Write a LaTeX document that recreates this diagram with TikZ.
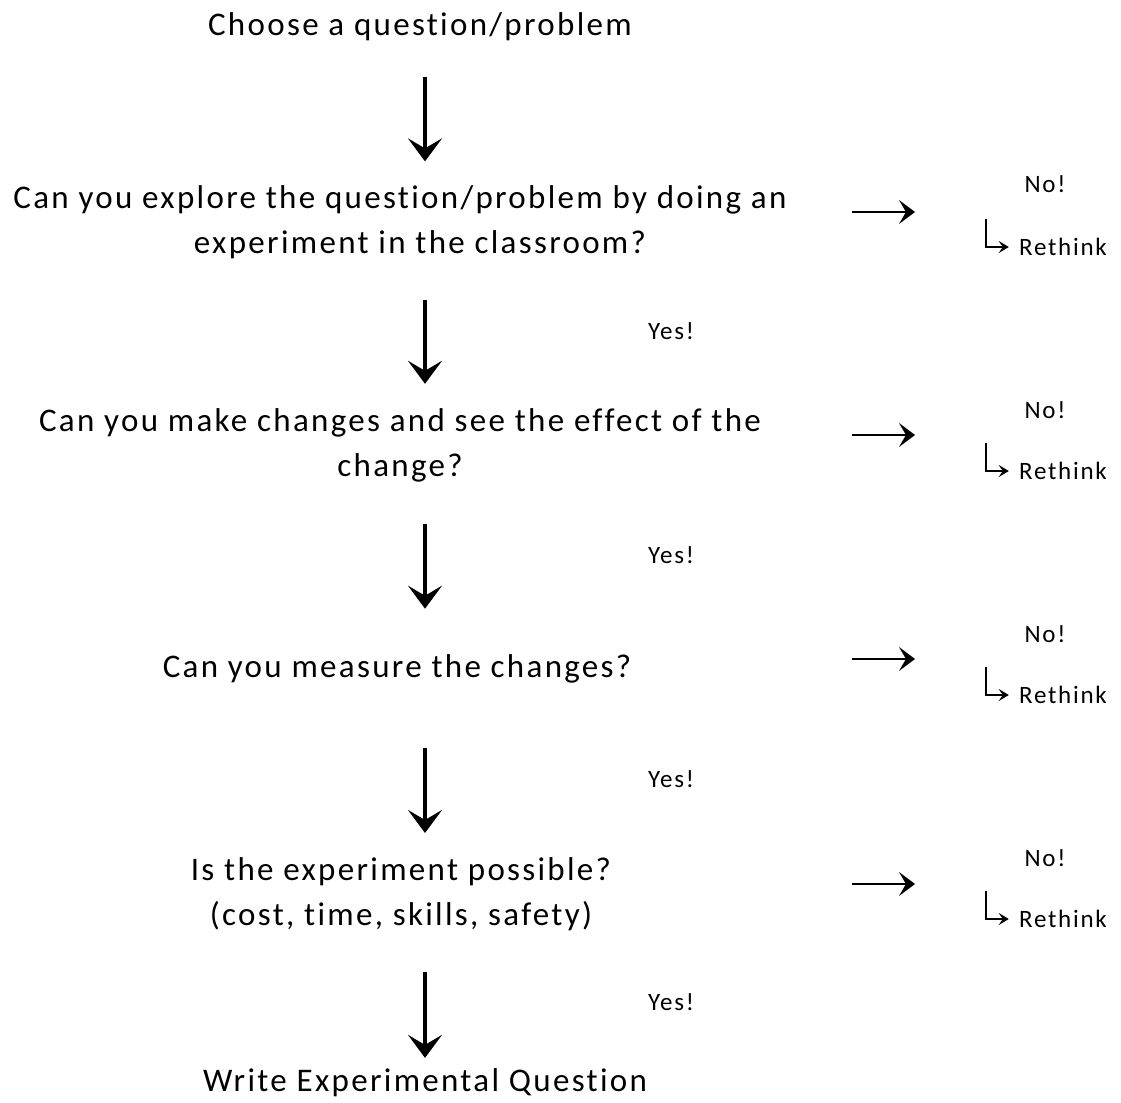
\documentclass[tikz,border=0pt]{standalone}
\usepackage{fontspec}
\setmainfont{Carlito}[LetterSpace=7, Ligatures=NoCommon]
\usetikzlibrary{arrows.meta}

\begin{document}
\begin{tikzpicture}[
    x=0.5pt, y=-0.5pt,
    qtext/.style={font=\fontsize{16.5}{22.5}\selectfont, align=center, inner sep=0pt},
    small/.style={font=\fontsize{12.5}{15}\selectfont, inner sep=0pt},
    down/.style={-{Stealth[length=11.5pt, width=17pt, inset=5pt]}, line width=2.2pt},
    noarrow/.style={-{Stealth[length=8pt, width=12pt, inset=3.5pt]}, line width=1.4pt},
    hook/.style={-{Stealth[length=5pt, width=6pt, inset=2pt]}, line width=0.7pt},
]
\useasboundingbox (0,0) rectangle (1121,1103);

% Questions down the middle
\node[qtext] (q0) at (420,27) {Choose a question/problem};
\node[qtext] (q1) at (400,222) {Can you explore the question/problem by doing an\\\hspace*{20pt}experiment in the classroom?};
\node[qtext] (q2) at (400,445) {Can you make changes and see the effect of the\\change?};
\node[qtext] (q3) at (397,669) {Can you measure the changes?};
\node[qtext] (q4) at (401,894) {Is the experiment possible?\\(cost, time, skills, safety)};
\node[qtext] (q5) at (425,1083) {Write Experimental Question};

% Downward arrows
\coordinate (ax) at (425,0);
\draw[down, shorten <=17.8pt, shorten >=11.8pt] (q0.south -| ax) -- (q1.north -| ax);
\draw[down, shorten <=20.3pt, shorten >=12pt] (q1.south -| ax) -- (q2.north -| ax);
\draw[down, shorten <=21pt, shorten >=22.8pt] (q2.south -| ax) -- (q3.north -| ax);
\draw[down, shorten <=32.3pt, shorten >=12pt] (q3.south -| ax) -- (q4.north -| ax);
\draw[down, shorten <=20.5pt, shorten >=5.3pt] (q4.south -| ax) -- (q5.north -| ax);

% Yes labels
\node[small] (y1) at (671,331) {Yes!};
\node[small] (y2) at (671,555) {Yes!};
\node[small] (y3) at (671,779) {Yes!};
\node[small] (y4) at (671,1002) {Yes!};

% No branches
\node[small] (n1) at (1045,184) {No!};
\node[small] (n2) at (1045,410) {No!};
\node[small] (n3) at (1045,634) {No!};
\node[small] (n4) at (1045,858) {No!};

\node[small] (r1) at (1063,247) {Rethink};
\node[small] (r2) at (1063,471) {Rethink};
\node[small] (r3) at (1063,695) {Rethink};
\node[small] (r4) at (1063,919) {Rethink};

% Right arrows
\coordinate (s1) at (852,212); \coordinate (e1) at (915,212);
\coordinate (s2) at (852,435); \coordinate (e2) at (915,435);
\coordinate (s3) at (852,659); \coordinate (e3) at (915,659);
\coordinate (s4) at (852,884); \coordinate (e4) at (915,884);
\draw[noarrow] (s1) -- (e1);
\draw[noarrow] (s2) -- (e2);
\draw[noarrow] (s3) -- (e3);
\draw[noarrow] (s4) -- (e4);

% Rethink hooks
\coordinate (h1) at (986,219);
\coordinate (h2) at (986,443);
\coordinate (h3) at (986,667);
\coordinate (h4) at (986,891);
\draw[hook] (h1) |- ([xshift=-5pt]r1.west);
\draw[hook] (h2) |- ([xshift=-5pt]r2.west);
\draw[hook] (h3) |- ([xshift=-5pt]r3.west);
\draw[hook] (h4) |- ([xshift=-5pt]r4.west);
\end{tikzpicture}
\end{document}
